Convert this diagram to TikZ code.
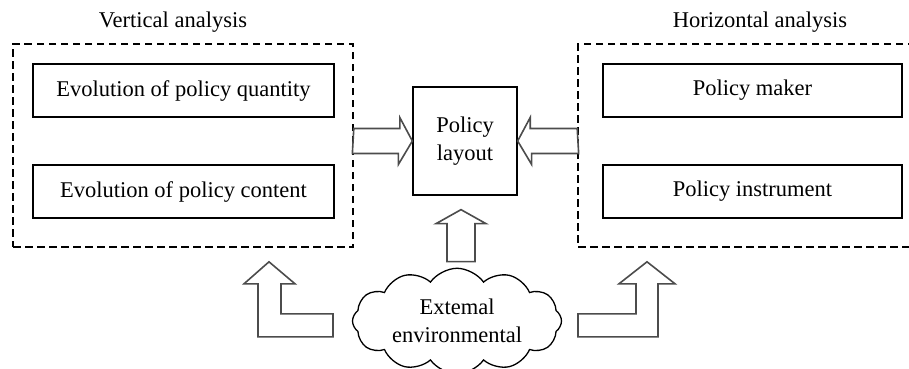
\documentclass[tikz,border=0pt]{standalone}
\usepackage{fontspec}
\setmainfont{Liberation Serif}
\usetikzlibrary{calc, positioning, shapes.symbols}

\begin{document}
\begin{tikzpicture}[x=1pt, y=-1pt,
    font=\fontsize{22.5}{28}\selectfont,
    group/.style={draw, dashed, dash pattern=on 7.5pt off 4.5pt, line width=1.6pt, minimum width=#1, minimum height=203pt},
    item/.style={draw, line width=1.3pt, minimum width=#1, minimum height=53pt},
    bigarrow/.style={draw=black!70, line width=1.6pt, line join=miter, fill=white},
    title/.style={font=\fontsize{22.5}{28}\selectfont}
]
\useasboundingbox (0,0) rectangle (909,368);

% the two groups of analysis
\node[group=340pt] (vbox) at (183, 145.5) {};
\node[group=337pt] (hbox) at (746.5, 145.5) {};
\node[title] (vlabel) at (173, 22) {Vertical analysis};
\node[title] (hlabel) at (760, 22) {Horizontal analysis};

\node[item=301pt] (quantity) at (183.5, 90.5) {Evolution of policy quantity};
\node[item=301pt] (content) at (183.5, 191.5) {Evolution of policy content};
\node[item=299pt] (maker) at (752.5, 90.5) {Policy maker};
\node[item=299pt] (instrument) at (752.5, 191.5) {Policy instrument};

% centre box and environment
\node[draw, line width=1.3pt, minimum width=104pt, minimum height=108pt, align=center] (layout) at (465, 141) {Policy\\layout};
\node[cloud, draw, line width=1.3pt, cloud puffs=12, cloud puff arc=110, aspect=2.2,
      minimum width=209pt, minimum height=90pt, inner sep=0pt, align=center] (env) at (457, 321) {Extemal\\environmental};

% block arrows into the layout
\draw[bigarrow] (vbox.east |- layout.west) ++(0,-12.5) -- ++(46,0) -- ++(0,-11) -- (layout.west)
    -- ++(-14,23.5) -- ++(0,-11) -- ++(-46,0) -- cycle;
\draw[bigarrow] (hbox.west |- layout.east) ++(0,-12.5) -- ++(-47,0) -- ++(0,-11) -- (layout.east)
    -- ++(14,23.5) -- ++(0,-11) -- ++(47,0) -- cycle;
\draw[bigarrow] ($(layout.south)+(-4,14)$) coordinate (uptip) -- ++(25,14) -- ++(-11,0) -- ++(0,38)
    -- ++(-28,0) -- ++(0,-38) -- ++(-11,0) -- cycle;

% bent arrows from the environment up to both groups
\coordinate (vtip) at ($(vbox.south)+(86,14)$);
\coordinate (htip) at ($(hbox.south)+(-99.5,14)$);
\draw[bigarrow] (vtip) -- ++(26,22) -- ++(-14,0) -- ++(0,30) -- ++(52,0) -- ++(0,23)
    -- ++(-75,0) -- ++(0,-53) -- ++(-14,0) -- cycle;
\draw[bigarrow] (htip) -- ++(28,22) -- ++(-17,0) -- ++(0,53) -- ++(-80,0) -- ++(0,-23)
    -- ++(58,0) -- ++(0,-30) -- ++(-17,0) -- cycle;
\end{tikzpicture}
\end{document}
